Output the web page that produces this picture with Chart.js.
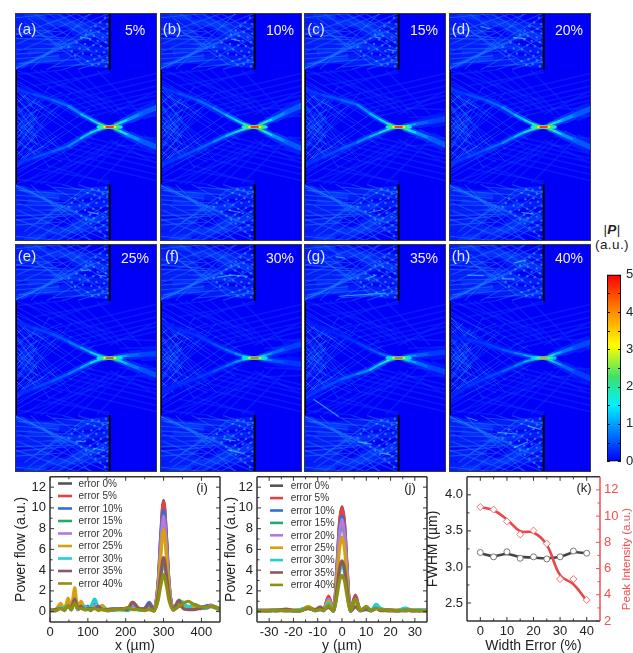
<!DOCTYPE html>
<html lang="en">
<head>
<meta charset="utf-8">
<title>Power flow vs width error</title>
<script src="https://cdn.jsdelivr.net/npm/chart.js"></script>
<style>
    html, body { margin: 0; padding: 0; background: #fff; overflow: hidden; }
    #page { position: relative; width: 633px; height: 653px; overflow: hidden; }
    canvas { position: absolute; }
    canvas.heat { background: #0000f8; filter: blur(0.5px); }
    .unit { position: absolute; left: 590px; width: 44px; text-align: center; font: 13.5px "Liberation Sans", Arial, sans-serif; color: #222; letter-spacing: 0.4px; }
</style>
</head>
<body>
<div id="page">
    <div class="unit" style="top:222px">|<b><i>P</i></b>|</div>
    <div class="unit" style="top:237px">(a.u.)</div>
</div>
<script>
// line plots (i) and (j)
const seriesNames = ['error 0%', 'error 5%', 'error 10%', 'error 15%', 'error 20%', 'error 25%', 'error 30%', 'error 35%', 'error 40%'];
const seriesColors = ['#555555', '#e84040', '#2f6fe0', '#28a86a', '#b07ae0', '#d6a010', '#20d0d0', '#8a5a5e', '#8f9010'];

const xPos = [0, 15, 28, 38, 48, 56, 65, 73, 82, 92, 100, 108, 118, 128, 138, 150, 170, 190, 205, 218, 235, 250, 262, 275, 285, 292, 300, 308, 315, 325, 340, 352, 365, 380, 395, 410, 425, 440, 449];
const flowX0 = [.2, .1, .6, .2, .9, .2, 1.2, .3, .7, .2, .5, .15, .6, .2, .5, .15, .2, .3, .2, .7, .3, .25, .7, .1, 2.6, 7, 10.7, 7, 2.6, .2, .6, .5, .4, .5, .3, .5, .6, .4, .15];
const flowX5 = [.15, .2, .5, .3, 1.0, .2, 1.1, .4, .6, .3, .4, .2, .5, .3, .4, .2, .3, .2, .3, .8, .2, .3, .6, .15, 2.5, 6.9, 10.6, 6.9, 2.5, .3, .5, .6, .3, .6, .3, .4, .5, .4, .2];
const flowX10 = [.2, .1, .4, .2, .8, .3, 1.0, .2, .5, .3, .5, .1, .7, .3, .4, .2, .2, .3, .2, .6, .3, .3, .9, .2, 2.4, 6.4, 9.8, 6.4, 2.4, .2, .7, .4, .5, .4, .4, .5, .6, .3, .2];
const flowX15 = [.1, .2, .5, .1, .7, .2, 1.0, .3, .5, .2, .4, .2, .5, .2, .3, .2, .3, .2, .2, .5, .2, .2, .6, .1, 2.2, 5.9, 9.0, 5.9, 2.2, .2, .6, .6, .3, .5, .3, .4, .5, .3, .2];
const flowX20 = [.2, .2, .3, .2, .7, .3, 1.1, .2, .4, .5, .3, .2, .6, .1, .5, .1, .2, .3, .2, .6, .2, .2, .5, .2, 2.3, 6, 9.2, 6, 2.3, .2, .5, .7, .2, .5, .4, .3, .6, .3, .2];
const flowX25 = [.1, .2, .8, .2, 1.3, .3, 2.3, .5, 1.0, .2, .4, .2, .4, .3, .6, .2, .2, .3, .3, .9, .3, .2, .5, .1, 2, 5.1, 7.9, 5.1, 2, .2, .8, .5, .5, .4, .4, .4, .5, .3, .2];
const flowX30 = [.2, .1, .4, .3, .6, .2, .9, .3, .4, .5, .3, .5, 1.2, .4, .3, .2, .15, .2, .1, .3, .15, .2, .4, .1, 1.2, 3.1, 4.7, 3.1, 1.2, .3, 1.0, .9, .4, .7, .5, .3, .5, .4, .1];
const flowX35 = [.1, .2, .3, .2, .5, .4, 1.2, .4, .5, .2, .3, .3, .3, .5, .2, .2, .2, .3, .2, .9, .3, .3, .7, .1, 1.4, 3.4, 5.2, 3.4, 1.4, .2, 1.1, .3, .2, .2, .3, .4, .5, .4, .2];
const flowX40 = [.1, .1, .3, .2, .6, .2, .8, .3, .3, .2, .2, .2, .3, .15, .2, .1, .2, .2, .4, .2, .2, .1, .2, .1, 1.0, 2.4, 3.6, 2.4, 1.0, .2, .5, .8, 1.0, .7, .5, .4, .5, .4, .2];

const yPos = [-35, -30, -27, -23, -20, -17, -14, -11, -9, -7.5, -5.5, -3.5, -2, -1, 0, 1, 2, 3.5, 5.5, 7.5, 10, 12, 14, 16, 19, 23, 26, 29, 32, 35];
const flowY0 = [.1, .1, .2, .15, .1, .15, .3, .15, .35, .2, 1.4, .1, 4.7, 8.6, 10.1, 8.6, 4.7, .1, 1.5, .2, .4, .1, .4, .2, .15, .1, .2, .1, .1, .15];
const flowY5 = [.1, .15, .1, .1, .15, .1, .3, .2, .3, .2, 1.5, .1, 4.6, 8.5, 10, 8.5, 4.6, .1, 1.6, .2, .3, .15, .3, .2, .1, .15, .1, .15, .1, .1];
const flowY10 = [.15, .1, .15, .1, .1, .2, .4, .1, .3, .15, 1.2, .1, 4.2, 7.8, 9.2, 7.8, 4.2, .1, 1.3, .15, .3, .1, .5, .2, .15, .1, .2, .1, .15, .1];
const flowY15 = [.1, .1, .1, .15, .1, .1, .35, .1, .25, .15, 1.1, .1, 4, 7.3, 8.6, 7.3, 4, .1, 1.2, .2, .3, .1, .4, .15, .1, .1, .15, .1, .1, .1];
const flowY20 = [.1, .15, .1, .2, .1, .1, .3, .15, .4, .1, 1.2, .1, 4.1, 7.5, 8.9, 7.5, 4.1, .1, 1.1, .1, .35, .1, .4, .2, .1, .1, .1, .1, .15, .1];
const flowY25 = [.1, .1, .15, .1, .15, .1, .5, .15, .3, .2, 1.0, .1, 3.3, 6.1, 7.2, 6.1, 3.3, .1, 1.1, .2, .4, .1, .3, .2, .1, .1, .2, .1, .1, .15];
const flowY30 = [.15, .1, .2, .1, .1, .2, .3, .1, .2, .1, .8, .05, 2.1, 3.8, 4.6, 3.8, 2.1, .05, .5, .1, .2, .1, .7, .3, .15, .1, .35, .1, .2, .1];
const flowY35 = [.1, .1, .1, .25, .1, .1, .3, .2, .45, .2, .4, .1, 2.3, 4.2, 4.9, 4.2, 2.3, .1, .45, .1, .25, .1, .3, .1, .15, .1, .15, .1, .1, .1];
const flowY40 = [.1, .1, .15, .1, .1, .1, .4, .1, .2, .1, .6, .1, 1.6, 3, 3.5, 3, 1.6, .1, 1.2, .1, .5, .1, .3, .2, .15, .1, .1, .15, .1, .1];

// panel (k)
const widthError = [0, 5, 10, 15, 20, 25, 30, 35, 40];
const fwhmPoints = [3.2, 3.14, 3.21, 3.12, 3.14, 3.11, 3.14, 3.22, 3.19];
const fwhmCurve = [3.19, 3.15, 3.18, 3.14, 3.13, 3.12, 3.14, 3.2, 3.19];
const peakPoints = [10.7, 10.5, 9.6, 8.6, 8.9, 7.9, 5.2, 5.2, 3.6];
const peakCurve = [10.7, 10.45, 9.75, 8.85, 8.75, 7.8, 5.5, 4.8, 3.55];

// tick labels
const ticksXi = [0, 100, 200, 300, 400];
const ticksXiMinor = [50, 150, 250, 350];
const ticksXj = [-30, -20, -10, 0, 10, 20, 30];
const ticksXjMinor = [-25, -15, -5, 5, 15, 25];
const ticksFlow = [0, 2, 4, 6, 8, 10, 12];
const ticksFlowMinor = [1, 3, 5, 7, 9, 11];
const ticksXk = [0, 10, 20, 30, 40];
const ticksXkMinor = [5, 15, 25, 35];
const ticksFwhm = [2.5, 3, 3.5, 4];
const ticksFwhmMinor = [2.75, 3.25, 3.75];
const ticksPeak = [2, 4, 6, 8, 10, 12];
const ticksPeakMinor = [3, 5, 7, 9, 11];
const ticksBar = [0, 1, 2, 3, 4, 5];
const ticksBarMinor = [.5, 1.5, 2.5, 3.5, 4.5];

// field maps (a)-(h), coordinates in um, focus at (300, 0)
const panelTags = ['(a)', '(b)', '(c)', '(d)', '(e)', '(f)', '(g)', '(h)'];
const panelErrors = ['5%', '10%', '15%', '20%', '25%', '30%', '35%', '40%'];
const beamLeftX = [0, 60, 120, 170, 210, 240, 265, 285, 300];
const beamRightX = [300, 315, 335, 360, 400, 450];
const upperLeft = [
    [122, 103, 85, 66, 40, 24, 11, 3, 0], [128, 105, 85, 60, 38, 22, 10, 3, 0],
    [122, 100, 85, 70, 42, 24, 11, 3, 0], [122, 102, 84, 62, 38, 22, 10, 3, 0],
    [114, 95, 75, 52, 32, 18, 8, 2, 0], [114, 92, 70, 44, 26, 14, 6, 2, 0],
    [125, 95, 70, 48, 28, 14, 6, 2, 0], [72, 58, 44, 26, 16, 9, 4, 1, 0]
];
const lowerLeft = [
    [-117, -97, -77, -60, -35, -18, -8, -2, 0], [-122, -97, -70, -46, -28, -16, -7, -2, 0],
    [-122, -95, -68, -48, -30, -18, -8, -2, 0], [-118, -95, -70, -50, -30, -16, -7, -2, 0],
    [-119, -96, -72, -50, -30, -15, -6, -2, 0], [-108, -85, -62, -42, -25, -12, -5, -1, 0],
    [-129, -95, -66, -50, -37, -20, -8, -2, 0], [-129, -90, -62, -42, -25, -12, -5, -1, 0]
];
const upperRight = [
    [0, 5, 14, 24, 42, 62], [0, 6, 16, 26, 46, 69], [0, 2, 6, 10, 17, 26], [0, 5, 13, 22, 38, 58],
    [0, 2, 5, 8, 11, 14], [0, 3, 9, 17, 30, 45], [0, 2, 6, 9, 13, 19], [0, 4, 12, 20, 34, 51]
];
const lowerRight = [
    [0, -5, -14, -26, -44, -64], [0, -6, -16, -28, -47, -69], [0, -4, -11, -20, -36, -58], [0, -5, -13, -24, -42, -64],
    [0, -4, -10, -20, -36, -55], [0, -2, -5, -9, -14, -20], [0, -3, -9, -16, -30, -44], [0, -5, -13, -24, -44, -66]
];
const beamLevelLeft = [.35, .5, .65, .9, 1.25, 1.7, 2.5, 3.4];
const beamLevelRight = [3.4, 2.4, 1.5, .95, .6];
const beamWidthLeft = [4, 4, 4, 3.8, 3.4, 3, 2.6, 2.2];
const beamWidthRight = [2.2, 3, 3.8, 5.5, 8];
const gainUpperLeft = [1, 1, 1, 1, .85, .6, .45, .65];
const gainLowerLeft = [1, 1, .95, 1, .9, .6, 1, .7];
const gainUpperRight = [1, 1, .7, 1, .75, .7, .65, .8];
const gainLowerRight = [1, 1, 1, 1, .85, .6, .75, .7];
const focusGain = [1, 1, 1, 1, .95, .9, .9, .8];
const focusSpots = [[264, 336], [276, 326], [283, 317], [289, 311]];
const focusLevels = [1.5, 2.4, 3.2, 5];

const wideRays = [
    [0, 300, 120, 290], [0, 275, 140, 270], [0, 250, 150, 250], [0, 225, 120, 240], [0, 340, 130, 320],
    [0, 320, 110, 305], [0, 205, 140, 225], [0, 190, 180, 230], [30, 360, 230, 300], [120, 360, 300, 270],
    [0, 355, 100, 345], [100, 330, 300, 320], [90, 210, 300, 195], [60, 275, 230, 250], [40, 235, 250, 290],
    [180, 300, 298, 290], [170, 250, 298, 240], [190, 220, 298, 210]
];
const thinRays = [
    [0, 190, 150, 255], [0, 185, 200, 270], [0, 184, 250, 300], [0, 183, 300, 320], [20, 186, 300, 350],
    [50, 182, 240, 360], [100, 181, 290, 280], [150, 181, 300, 230], [200, 182, 300, 215], [60, 360, 300, 200],
    [100, 360, 300, 240], [130, 360, 300, 260], [160, 360, 300, 280], [190, 360, 300, 300], [0, 345, 160, 360],
    [0, 290, 200, 360], [0, 260, 250, 360], [0, 235, 300, 360], [0, 310, 150, 300], [0, 295, 170, 280],
    [0, 280, 180, 275], [0, 262, 160, 262], [0, 245, 170, 250], [0, 230, 170, 240], [0, 215, 140, 225],
    [30, 330, 220, 195], [70, 300, 260, 190], [40, 345, 180, 250], [10, 200, 210, 215], [120, 190, 300, 205]
];
const latticeRays = [
    [0, 130, 130, 30], [0, 120, 160, 10], [0, 110, 100, -30], [0, 95, 140, -60], [0, 80, 90, -70],
    [0, 70, 180, -110], [0, 60, 120, -80], [0, 45, 100, -100], [0, 30, 110, -130], [0, 15, 70, -100],
    [0, 150, 200, 30], [0, 165, 260, 20], [0, 140, 150, 70], [0, 50, 150, 110], [0, 20, 150, 90],
    [0, -10, 160, 75], [0, -40, 130, 60], [0, -70, 180, 70], [0, -100, 240, 60], [0, -130, 250, 40]
];
const leftRays = [
    [5, 115, 60, 60], [5, 90, 70, 25], [5, 60, 60, -5], [10, 30, 70, -35], [5, 130, 50, 75],
    [5, 75, 45, 110], [5, 40, 70, 90], [10, 5, 70, 55], [5, -20, 60, 30], [20, 100, 90, 60]
];
const outerRays = [
    [100, 120, 300, 180], [60, 130, 300, 172], [130, 95, 450, 170], [150, 80, 450, 150], [170, 65, 450, 130],
    [190, 55, 450, 112], [200, 40, 450, 100], [220, 30, 450, 85], [0, 165, 150, 180], [300, 40, 450, 115],
    [60, 180, 260, 60], [80, 180, 300, 50], [120, 180, 290, 60], [0, 180, 300, 80], [30, 175, 240, 50],
    [160, 180, 330, 40], [200, 178, 360, 30], [260, 178, 400, 40], [320, 60, 450, 55], [330, 30, 450, 35]
];
const speckles = [
    [285, 345], [270, 330], [292, 325], [255, 318], [280, 310], [240, 305], [265, 300], [293, 295], [225, 292], [250, 288],
    [278, 283], [210, 280], [238, 276], [262, 272], [288, 268], [195, 266], [222, 262], [248, 258], [272, 255], [294, 250],
    [205, 248], [232, 245], [258, 240], [282, 236], [215, 232], [242, 228], [268, 225], [292, 220], [190, 225], [252, 214],
    [278, 210], [230, 208], [296, 205], [265, 198], [288, 192], [245, 196], [180, 240], [170, 252]
];
const brightDashes = [
    [[205, 285, 240, 278], [230, -268, 265, -275]],
    [[225, 278, 255, 272], [215, -262, 255, -270]],
    [[225, 285, 245, 280], [265, 245, 292, 240], [205, -270, 245, -262]],
    [[100, 318, 130, 310], [203, 283, 245, 278], [230, -270, 270, -275]],
    [[210, 276, 235, 278], [265, 262, 290, 258], [195, -262, 220, -265], [250, -285, 285, -292]],
    [[180, 255, 225, 262], [225, 262, 278, 258], [200, -255, 240, -262], [215, -290, 260, -300]],
    [[100, 320, 130, 315], [195, 250, 230, 262], [110, 195, 260, 205], [30, -130, 110, -185], [170, -265, 215, -272], [240, -300, 275, -305]],
    [[58, 262, 110, 260], [170, 250, 205, 250], [205, 300, 245, 310], [58, -188, 90, -198], [153, -235, 215, -240], [205, -283, 250, -265], [250, -215, 290, -225]]
];
const slitBars = [[300, 180, 300, 360], [300, -180, 300, -360]];
const backBar = [[2, -180, 2, 180]];
const topWash = [[0, 182], [300, 182], [300, 360], [0, 360]];

const jetStops = [[0, [0, 0, 255]], [.3, [0, 240, 255]], [.45, [60, 225, 110]], [.62, [255, 255, 0]], [.8, [255, 140, 0]], [1, [255, 0, 0]]];

function jet(level, alpha) {
    const t = Math.min(Math.max(level / 5, 0), 1);
    let i = 0;
    while (i < jetStops.length - 2 && t > jetStops[i + 1][0]) i++;
    const f = (t - jetStops[i][0]) / (jetStops[i + 1][0] - jetStops[i][0]);
    const c = jetStops[i][1].map((v, k) => Math.round(v + (jetStops[i + 1][1][k] - v) * f));
    return 'rgba(' + c.join(',') + ',' + (alpha === undefined ? 1 : alpha) + ')';
}

function addCanvas(x, y, w, h, cls) {
    const c = document.createElement('canvas');
    c.width = w;
    c.height = h;
    c.style.left = x + 'px';
    c.style.top = y + 'px';
    c.style.width = w + 'px';
    c.style.height = h + 'px';
    if (cls) c.className = cls;
    document.getElementById('page').appendChild(c);
    return c;
}

// rays go in buckets so that overlaps between buckets get brighter
function rayDatasets(rays, buckets, color, width, mirror) {
    const out = [];
    for (let b = 0; b < buckets; b++) {
        const pts = [];
        rays.forEach((r, i) => {
            if (i % buckets !== b) return;
            pts.push({x: r[0], y: r[1]}, {x: r[2], y: r[3]}, {x: NaN, y: NaN});
            if (mirror) pts.push({x: r[0], y: -r[1]}, {x: r[2], y: -r[3]}, {x: NaN, y: NaN});
        });
        out.push({data: pts, borderColor: color, borderWidth: width, showLine: true, pointRadius: 0, clip: 0});
    }
    return out;
}

function beamDatasets(xs, ys, levels, widths, gain) {
    const glow = [], core = [];
    levels.forEach((lv, i) => {
        const pts = [{x: xs[i], y: ys[i]}, {x: xs[i + 1], y: ys[i + 1]}];
        glow.push({data: pts, borderColor: jet(lv * gain * .6, .5), borderWidth: widths[i] * 1.7, showLine: true, pointRadius: 0, clip: 0});
        core.push({data: pts, borderColor: jet(lv * gain, .9), borderWidth: widths[i] * .65, showLine: true, pointRadius: 0, clip: 0, borderCapStyle: 'round'});
    });
    return glow.concat(core);
}

function textPlugin(items) {
    return {
        id: 'textItems',
        afterDraw(chart) {
            const ctx = chart.ctx;
            items.forEach(t => {
                ctx.save();
                ctx.translate(t.x, t.y);
                if (t.rot) ctx.rotate(t.rot);
                ctx.font = t.font;
                ctx.fillStyle = t.color;
                ctx.textAlign = t.align || 'center';
                ctx.textBaseline = 'middle';
                ctx.fillText(t.text, 0, 0);
                ctx.restore();
            });
        }
    };
}

function framePlugin(color, width) {
    return {
        id: 'panelFrame',
        afterDatasetsDraw(chart) {
            const a = chart.chartArea, ctx = chart.ctx;
            ctx.save();
            ctx.strokeStyle = color;
            ctx.lineWidth = width;
            ctx.strokeRect(a.left + width / 2, a.top + width / 2, a.right - a.left - width, a.bottom - a.top - width);
            ctx.restore();
        }
    };
}

// inward ticks on all four sides, placed through the chart's scales
function axisPlugin(cfg) {
    return {
        id: 'axisTicks',
        afterDatasetsDraw(chart) {
            const a = chart.chartArea, ctx = chart.ctx;
            const xs = chart.scales.x, ys = chart.scales.y;
            const rs = cfg.rightScale ? chart.scales[cfg.rightScale] : ys;
            const rightColor = cfg.rightColor || cfg.color;
            function seg(x0, y0, x1, y1, c, w) {
                ctx.strokeStyle = c;
                ctx.lineWidth = w;
                ctx.beginPath();
                ctx.moveTo(x0, y0);
                ctx.lineTo(x1, y1);
                ctx.stroke();
            }
            ctx.save();
            [[cfg.xMajor, 4], [cfg.xMinor, 2.5]].forEach(([list, len]) => list.forEach(v => {
                const p = xs.getPixelForValue(v);
                seg(p, a.bottom, p, a.bottom - len, cfg.color, 1);
                seg(p, a.top, p, a.top + len, cfg.color, 1);
            }));
            [[cfg.yMajor, 4], [cfg.yMinor, 2.5]].forEach(([list, len]) => list.forEach(v => {
                const p = ys.getPixelForValue(v);
                seg(a.left, p, a.left + len, p, cfg.color, 1);
                if (!cfg.rightScale) seg(a.right, p, a.right - len, p, cfg.color, 1);
            }));
            if (cfg.rightScale) {
                [[cfg.rMajor, 4], [cfg.rMinor, 2.5]].forEach(([list, len]) => list.forEach(v => {
                    const p = rs.getPixelForValue(v);
                    seg(a.right, p, a.right - len, p, rightColor, 1);
                }));
            }
            seg(a.left, a.top, a.right, a.top, cfg.color, 1.5);
            seg(a.left, a.bottom, a.right, a.bottom, cfg.color, 1.5);
            seg(a.left, a.top, a.left, a.bottom, cfg.color, 1.5);
            seg(a.right, a.top, a.right, a.bottom, rightColor, 1.5);
            ctx.restore();
        }
    };
}

function legendPlugin(x0, x1, xText, yStart, yStep) {
    return {
        id: 'errorLegend',
        afterDatasetsDraw(chart) {
            const ctx = chart.ctx, box = chart.canvas.getBoundingClientRect();
            const page = document.getElementById('page').getBoundingClientRect();
            const ox = box.left - page.left, oy = box.top - page.top;
            ctx.save();
            seriesNames.forEach((name, i) => {
                const y = yStart + i * yStep - oy;
                ctx.strokeStyle = seriesColors[i];
                ctx.lineWidth = 2.6;
                ctx.beginPath();
                ctx.moveTo(x0 - ox, y);
                ctx.lineTo(x1 - ox, y);
                ctx.stroke();
                ctx.fillStyle = '#333';
                ctx.font = '10px "Liberation Sans", Arial, sans-serif';
                ctx.textAlign = 'left';
                ctx.textBaseline = 'middle';
                ctx.fillText(name, xText - ox, y + .5);
            });
            ctx.restore();
        }
    };
}

const tickFont = {family: '"Liberation Sans", Arial, sans-serif', size: 13};
const titleFont = {family: '"Liberation Sans", Arial, sans-serif', size: 14};
const noGrid = {display: false, drawTicks: false};

function fixedTicks(list) {
    return scale => { scale.ticks = list.map(v => ({value: v})); };
}

function flowChart(box, xs, series, xRange, xTicks, xMinor, xTitle, tag, tagX, legend) {
    const datasets = series.map((vals, i) => ({
        data: vals.map((v, k) => ({x: xs[k], y: v})),
        borderColor: seriesColors[i],
        borderWidth: 3.2,
        showLine: true,
        pointRadius: 0,
        tension: .35,
        order: -i
    }));
    new Chart(addCanvas(box.x, box.y, box.w, box.h), {
        type: 'scatter',
        data: {datasets: datasets},
        options: {
            responsive: false,
            animation: false,
            events: [],
            layout: {autoPadding: false, padding: {top: 8, right: box.padRight}},
            plugins: {legend: {display: false}, tooltip: {enabled: false}},
            scales: {
                x: {
                    type: 'linear', min: xRange[0], max: xRange[1],
                    afterBuildTicks: fixedTicks(xTicks),
                    afterFit: s => { s.height = 33; },
                    grid: noGrid, border: {display: false},
                    ticks: {color: '#222', font: tickFont, padding: 3, maxRotation: 0, autoSkip: false},
                    title: {display: true, text: xTitle, color: '#222', font: titleFont, padding: {top: 0, bottom: 0}}
                },
                y: {
                    min: -1, max: 13,
                    afterBuildTicks: fixedTicks(ticksFlow),
                    afterFit: s => { s.width = box.leftW; },
                    grid: noGrid, border: {display: false},
                    ticks: {color: '#222', font: tickFont, padding: 4, autoSkip: false},
                    title: {display: true, text: 'Power flow (a.u.)', color: '#222', font: titleFont, padding: {top: 3, bottom: 0}}
                }
            }
        },
        plugins: [
            axisPlugin({color: '#333', xMajor: xTicks, xMinor: xMinor, yMajor: ticksFlow, yMinor: ticksFlowMinor}),
            legendPlugin(legend[0], legend[1], legend[2], legend[3], legend[4]),
            textPlugin([{text: tag, x: tagX, y: 23, color: '#222', font: '13px "Liberation Sans", Arial, sans-serif'}])
        ]
    });
}

function heatChart(i) {
    const col = i % 4;
    const row = i < 4 ? 0 : 1;
    const lefts = [15, 159.5, 304, 448.5];
    const x = lefts[col], y = row === 0 ? 12.5 : 243.5;
    let ds = [];
    [1, -1].forEach(sign => {
        ds.push({
            data: topWash.map(p => ({x: p[0], y: p[1] * sign})).concat([{x: topWash[0][0], y: topWash[0][1] * sign}]),
            showLine: true, pointRadius: 0, borderWidth: 0, fill: true, backgroundColor: 'rgba(6,60,255,0.7)', clip: 0
        });
    });
    ds = ds.concat(rayDatasets(wideRays, 4, 'rgba(16,100,255,0.28)', 6, true));
    ds = ds.concat(rayDatasets(thinRays, 5, 'rgba(30,135,255,0.45)', 1.1, true));
    ds = ds.concat(rayDatasets(outerRays, 4, 'rgba(20,70,255,0.35)', 1.6, true));
    ds = ds.concat(rayDatasets(latticeRays, 4, 'rgba(20,125,255,0.38)', 1, true));
    ds = ds.concat(rayDatasets(leftRays, 3, 'rgba(30,190,250,0.4)', 1, true));
    ds = ds.concat(beamDatasets(beamLeftX, upperLeft[i], beamLevelLeft, beamWidthLeft, gainUpperLeft[i]));
    ds = ds.concat(beamDatasets(beamLeftX, lowerLeft[i], beamLevelLeft, beamWidthLeft, gainLowerLeft[i]));
    ds = ds.concat(beamDatasets(beamRightX, upperRight[i], beamLevelRight, beamWidthRight, gainUpperRight[i]));
    ds = ds.concat(beamDatasets(beamRightX, lowerRight[i], beamLevelRight, beamWidthRight, gainLowerRight[i]));
    ds.push({
        data: speckles.concat(speckles.map(p => [p[0], -p[1]])).map(p => ({x: p[0], y: p[1]})),
        backgroundColor: 'rgba(60,190,255,0.55)', borderWidth: 0, pointRadius: 1.2, showLine: false, clip: 0
    });
    ds = ds.concat(rayDatasets(brightDashes[i], 1, 'rgba(60,220,240,0.65)', 1.2, false));
    focusSpots.forEach((s, k) => {
        ds.push({
            data: [{x: s[0], y: 0}, {x: s[1], y: 0}],
            borderColor: jet(focusLevels[k] * focusGain[i]),
            borderWidth: [3.5, 3, 2.2, 1.6][k], showLine: true, pointRadius: 0, clip: 0, borderCapStyle: 'round'
        });
    });
    ds = ds.concat(rayDatasets(slitBars, 1, '#000', 2, false));
    ds = ds.concat(rayDatasets(backBar, 1, '#000', 2.8, false));
    ds.forEach((d, k) => { d.order = -k; });
    new Chart(addCanvas(x, y, 142, 228, 'heat'), {
        type: 'scatter',
        data: {datasets: ds},
        options: {
            responsive: false,
            animation: false,
            events: [],
            layout: {autoPadding: false, padding: 0},
            plugins: {legend: {display: false}, tooltip: {enabled: false}},
            scales: {
                x: {type: 'linear', min: 0, max: 450, display: false},
                y: {min: -360, max: 360, display: false}
            }
        },
        plugins: [
            framePlugin('#3a3a3a', 1),
            textPlugin([
                {text: panelTags[i], x: 12, y: row === 0 ? 16.5 : 13, color: '#e8ecff', font: '15px "Liberation Sans", Arial, sans-serif'},
                {text: panelErrors[i], x: 120, y: row === 0 ? 18.5 : 15.5, color: '#f0f2ff', font: '14px "Liberation Sans", Arial, sans-serif'}
            ])
        ]
    });
}

panelTags.forEach((t, i) => heatChart(i));

flowChart({x: 10, y: 465, w: 214, h: 190, leftW: 40, padRight: 4}, xPos,
    [flowX0, flowX5, flowX10, flowX15, flowX20, flowX25, flowX30, flowX35, flowX40],
    [0, 449], ticksXi, ticksXiMinor, 'x (\u00b5m)', '(i)', 192, [58, 72, 78.5, 483.5, 12.5]);

flowChart({x: 220, y: 465, w: 211, h: 190, leftW: 37, padRight: 4}, yPos,
    [flowY0, flowY5, flowY10, flowY15, flowY20, flowY25, flowY30, flowY35, flowY40],
    [-35, 35], ticksXj, ticksXjMinor, 'y (\u00b5m)', '(j)', 190, [270, 283, 290.7, 485.7, 12.4]);

// panel (k)
new Chart(addCanvas(425, 465, 208, 190), {
    type: 'scatter',
    data: {
        datasets: [
            {data: peakPoints.map((v, k) => ({x: widthError[k], y: v})), yAxisID: 'y2', showLine: false, pointStyle: 'rectRot', pointRadius: 3.5, pointBackgroundColor: '#fff', pointBorderColor: '#f47070', pointBorderWidth: 1, order: -3},
            {data: fwhmPoints.map((v, k) => ({x: widthError[k], y: v})), yAxisID: 'y', showLine: false, pointStyle: 'circle', pointRadius: 3, pointBackgroundColor: '#fff', pointBorderColor: '#777', pointBorderWidth: 1, order: -2},
            {data: peakCurve.map((v, k) => ({x: widthError[k], y: v})), yAxisID: 'y2', showLine: true, borderColor: '#e8474c', borderWidth: 2.6, pointRadius: 0, tension: .4, order: -1},
            {data: fwhmCurve.map((v, k) => ({x: widthError[k], y: v})), yAxisID: 'y', showLine: true, borderColor: '#444', borderWidth: 2.6, pointRadius: 0, tension: .4, order: 0}
        ]
    },
    options: {
        responsive: false,
        animation: false,
        events: [],
        layout: {autoPadding: false, padding: {top: 8}},
        plugins: {legend: {display: false}, tooltip: {enabled: false}},
        scales: {
            x: {
                type: 'linear', min: -5, max: 45,
                afterBuildTicks: fixedTicks(ticksXk),
                afterFit: s => { s.height = 34; },
                grid: noGrid, border: {display: false},
                ticks: {color: '#222', font: tickFont, padding: 3, autoSkip: false, maxRotation: 0},
                title: {display: true, text: 'Width Error (%)', color: '#222', font: titleFont, padding: {top: 0, bottom: 0}}
            },
            y: {
                position: 'left', min: 2.25, max: 4.25,
                afterBuildTicks: fixedTicks(ticksFwhm),
                afterFit: s => { s.width = 42; },
                grid: noGrid, border: {display: false},
                ticks: {color: '#222', font: tickFont, padding: 4, autoSkip: false, callback: v => v.toFixed(1)},
                title: {display: true, text: 'FWHM (\u00b5m)', color: '#222', font: titleFont, padding: {top: 0, bottom: 0}}
            },
            y2: {
                position: 'right', min: 2, max: 13,
                afterBuildTicks: fixedTicks(ticksPeak),
                afterFit: s => { s.width = 33; },
                grid: noGrid, border: {display: false},
                ticks: {color: '#f05050', font: tickFont, padding: 4, autoSkip: false}
            }
        }
    },
    plugins: [
        axisPlugin({color: '#333', xMajor: ticksXk, xMinor: ticksXkMinor, yMajor: ticksFwhm, yMinor: ticksFwhmMinor, rightScale: 'y2', rightColor: '#f05050', rMajor: ticksPeak, rMinor: ticksPeakMinor}),
        textPlugin([
            {text: '(k)', x: 159, y: 23, color: '#222', font: '13px "Liberation Sans", Arial, sans-serif'},
            {text: 'Peak Intensity (a.u.)', x: 201.5, y: 94, rot: -Math.PI / 2, color: '#f05050', font: '11.5px "Liberation Sans", Arial, sans-serif'}
        ])
    ]
});

// colour bar
new Chart(addCanvas(600, 262, 33, 212), {
    type: 'bar',
    data: {
        labels: [''],
        datasets: [{
            data: [[0, 5]],
            barPercentage: 1,
            categoryPercentage: 1,
            backgroundColor(ctx) {
                const a = ctx.chart.chartArea;
                if (!a) return '#00f';
                const g = ctx.chart.ctx.createLinearGradient(0, a.bottom, 0, a.top);
                jetStops.forEach(s => g.addColorStop(s[0], 'rgb(' + s[1].join(',') + ')'));
                return g;
            }
        }]
    },
    options: {
        responsive: false,
        animation: false,
        events: [],
        layout: {autoPadding: false, padding: {left: 7, top: 7, bottom: 8}},
        plugins: {legend: {display: false}, tooltip: {enabled: false}},
        scales: {
            x: {display: false},
            y: {
                position: 'right', min: 0, max: 5,
                afterBuildTicks: fixedTicks(ticksBar),
                afterFit: s => { s.width = 12; },
                grid: noGrid, border: {display: false},
                ticks: {color: '#222', font: tickFont, padding: 5, autoSkip: false}
            }
        }
    },
    plugins: [{
        id: 'barTicks',
        afterDatasetsDraw(chart) {
            const a = chart.chartArea, ctx = chart.ctx, ys = chart.scales.y;
            ctx.save();
            ctx.strokeStyle = '#111';
            ctx.lineWidth = 1;
            ctx.strokeRect(a.left + .5, a.top + .5, a.right - a.left - 1, a.bottom - a.top - 1);
            ticksBar.concat(ticksBarMinor).forEach(v => {
                const p = Math.round(ys.getPixelForValue(v)) + .5;
                ctx.beginPath();
                ctx.moveTo(a.left, p); ctx.lineTo(a.left + 3, p);
                ctx.moveTo(a.right, p); ctx.lineTo(a.right - 3, p);
                ctx.stroke();
            });
            ctx.restore();
        }
    }]
});
</script>
</body>
</html>
